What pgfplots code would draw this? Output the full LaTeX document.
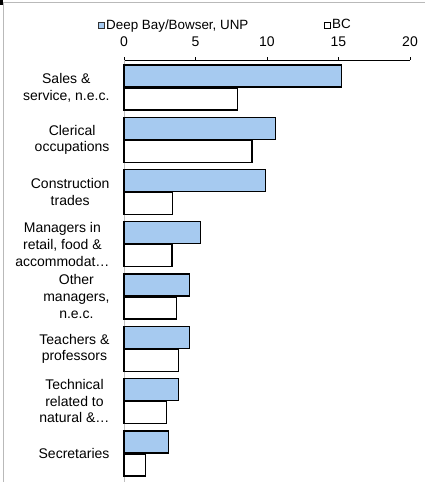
\documentclass[border=0pt]{standalone}
\usepackage{pgfplots}
\pgfplotsset{compat=1.18}
\usepackage{fontspec}
\setmainfont{Liberation Sans}
\definecolor{barblue}{RGB}{166,202,240}
\newcommand{\lblfont}{\fontsize{14}{16.7}\selectfont}
\newcommand{\legfont}{\fontsize{13.4}{15}\selectfont}
\begin{document}
\begin{tikzpicture}
\path[use as bounding box] (0pt,0pt) rectangle (425pt,482pt);
\draw[gray!55, line width=1pt] (3.3pt,0pt) -- (3.3pt,479.5pt) -- (425pt,479.5pt);
\fill[black] (0pt,477pt) rectangle (2.5pt,482pt);
\begin{axis}[
  at={(124pt,422pt)}, anchor=north west,
  scale only axis, width=286pt, height=422pt,
  xbar, bar width=22pt,
  xmin=0, xmax=20, xtick={0,5,10,15,20},
  ymin=-0.526, ymax=7.547, y dir=reverse,
  ytick={0,...,7},
  yticklabels={{Sales \&\\service, n.e.c.},{Clerical\\occupations},{Construction\\trades},{Managers in\\retail, food \&\\accommodat…},{Other\\managers,\\n.e.c.},{Teachers \&\\professors},{Technical\\related to\\natural \&…},{Secretaries}},
  axis x line*=top, axis y line*=left,
  x axis line style={black, line width=0.8pt},
  y axis line style={draw=gray!50, line width=0.8pt},
  ytick style={draw=none},
  xtick style={black, line width=0.5pt},
  xtick align=outside, major tick length=3pt,
  /pgf/number format/assume math mode=true,
  yticklabel style={font=\lblfont, align=center, anchor=east, xshift=-8pt},
  xticklabel style={font=\lblfont, yshift=7pt},
  legend columns=2,
  legend style={at={(rel axis cs:-0.092,1.083)}, anchor=west, draw=none, fill=none, inner sep=0pt, font=\legfont, nodes={inner sep=1.5pt}, /tikz/every even column/.append style={column sep=74pt}},
  clip=false,
]
\addplot[fill=barblue, draw=black, line width=1.3pt, bar shift=11.5pt,
  legend image code/.code={\draw[fill=barblue, draw=black!80, line width=0.8pt] (0pt,-3pt) rectangle (6pt,3pt);}]
  coordinates {(15.2,0) (10.6,1) (9.9,2) (5.35,3) (4.6,4) (4.6,5) (3.8,6) (3.1,7)};
\addlegendentry{Deep Bay/Bowser,\ UNP}
\addplot[fill=white, draw=black, line width=1.3pt, bar shift=-11.5pt,
  legend image code/.code={\draw[fill=white, draw=black, line width=0.8pt] (0pt,-3pt) rectangle (6pt,3pt);}]
  coordinates {(7.95,0) (8.95,1) (3.4,2) (3.35,3) (3.65,4) (3.8,5) (2.95,6) (1.5,7)};
\addlegendentry{BC}
\end{axis}
\end{tikzpicture}
\end{document}
